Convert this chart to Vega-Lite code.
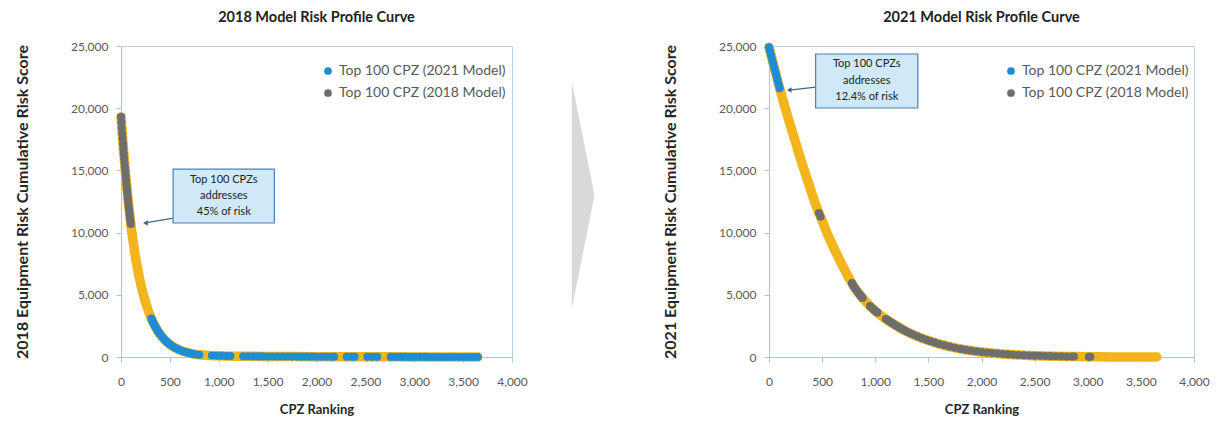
{
  "$schema": "https://vega.github.io/schema/vega-lite/v6.json",
  "background": "white",
  "padding": {"left": 13, "right": 4, "top": 9, "bottom": 2},
  "spacing": 28,
  "datasets": {
    "curve2018": [
      {"rank":0,"score":19300},{"rank":25,"score":16750},{"rank":50,"score":14450},{"rank":75,"score":12450},{"rank":100,"score":10700},{"rank":125,"score":9250},{"rank":150,"score":7950},{"rank":175,"score":6880},{"rank":200,"score":5930},{"rank":250,"score":4420},{"rank":300,"score":3290},{"rank":350,"score":2450},{"rank":400,"score":1820},{"rank":450,"score":1360},{"rank":500,"score":1010},{"rank":600,"score":560},{"rank":700,"score":320},{"rank":800,"score":180},{"rank":900,"score":130},{"rank":1000,"score":95},{"rank":1200,"score":65},{"rank":1500,"score":42},{"rank":2000,"score":25},{"rank":2500,"score":14},{"rank":3000,"score":7},{"rank":3400,"score":3},{"rank":3650,"score":0}
    ],
    "top2018panel": [
      {"rank":0,"score":19300,"model":"2018"},{"rank":4,"score":18850,"model":"2018"},{"rank":8,"score":18410,"model":"2018"},{"rank":12,"score":17980,"model":"2018"},{"rank":16,"score":17560,"model":"2018"},{"rank":20,"score":17150,"model":"2018"},{"rank":24,"score":16750,"model":"2018"},{"rank":28,"score":16360,"model":"2018"},{"rank":32,"score":15980,"model":"2018"},{"rank":36,"score":15610,"model":"2018"},{"rank":40,"score":15240,"model":"2018"},{"rank":44,"score":14890,"model":"2018"},{"rank":48,"score":14540,"model":"2018"},{"rank":52,"score":14200,"model":"2018"},{"rank":56,"score":13870,"model":"2018"},{"rank":60,"score":13540,"model":"2018"},{"rank":64,"score":13230,"model":"2018"},{"rank":68,"score":12920,"model":"2018"},{"rank":72,"score":12620,"model":"2018"},{"rank":76,"score":12320,"model":"2018"},{"rank":80,"score":12040,"model":"2018"},{"rank":84,"score":11750,"model":"2018"},{"rank":88,"score":11480,"model":"2018"},{"rank":92,"score":11210,"model":"2018"},{"rank":96,"score":10950,"model":"2018"},{"rank":100,"score":10700,"model":"2018"},
      {"rank":310,"score":3099,"model":"2021"},{"rank":320,"score":2922,"model":"2021"},{"rank":330,"score":2754,"model":"2021"},{"rank":340,"score":2596,"model":"2021"},{"rank":350,"score":2447,"model":"2021"},{"rank":360,"score":2306,"model":"2021"},{"rank":370,"score":2175,"model":"2021"},{"rank":380,"score":2050,"model":"2021"},{"rank":390,"score":1933,"model":"2021"},{"rank":400,"score":1822,"model":"2021"},{"rank":420,"score":1619,"model":"2021"},{"rank":440,"score":1440,"model":"2021"},{"rank":460,"score":1280,"model":"2021"},{"rank":480,"score":1137,"model":"2021"},{"rank":500,"score":1010,"model":"2021"},{"rank":530,"score":846,"model":"2021"},{"rank":560,"score":709,"model":"2021"},{"rank":590,"score":594,"model":"2021"},{"rank":620,"score":498,"model":"2021"},{"rank":650,"score":417,"model":"2021"},{"rank":680,"score":349,"model":"2021"},{"rank":710,"score":293,"model":"2021"},{"rank":740,"score":245,"model":"2021"},{"rank":770,"score":205,"model":"2021"},{"rank":800,"score":180,"model":"2021"},
      {"rank":930,"score":125,"model":"2021"},{"rank":980,"score":105,"model":"2021"},{"rank":1030,"score":93,"model":"2021"},{"rank":1080,"score":85,"model":"2021"},{"rank":1120,"score":78,"model":"2021"},
      {"rank":1250,"score":62,"model":"2021"},{"rank":1300,"score":58,"model":"2021"},{"rank":1350,"score":54,"model":"2021"},{"rank":1400,"score":50,"model":"2021"},{"rank":1450,"score":47,"model":"2021"},{"rank":1500,"score":44,"model":"2021"},{"rank":1550,"score":42,"model":"2021"},{"rank":1600,"score":40,"model":"2021"},{"rank":1650,"score":38,"model":"2021"},{"rank":1700,"score":36,"model":"2021"},{"rank":1750,"score":34,"model":"2021"},{"rank":1800,"score":32,"model":"2021"},{"rank":1850,"score":30,"model":"2021"},{"rank":1900,"score":28,"model":"2021"},{"rank":1950,"score":27,"model":"2021"},{"rank":2000,"score":25,"model":"2021"},{"rank":2050,"score":24,"model":"2021"},{"rank":2100,"score":22,"model":"2021"},{"rank":2150,"score":21,"model":"2021"},{"rank":2180,"score":20,"model":"2021"},
      {"rank":2310,"score":17,"model":"2021"},{"rank":2360,"score":16,"model":"2021"},{"rank":2390,"score":15,"model":"2021"},
      {"rank":2520,"score":13,"model":"2021"},{"rank":2570,"score":12,"model":"2021"},{"rank":2620,"score":11,"model":"2021"},
      {"rank":2760,"score":9,"model":"2021"},{"rank":2810,"score":9,"model":"2021"},{"rank":2860,"score":8,"model":"2021"},{"rank":2910,"score":8,"model":"2021"},{"rank":2960,"score":7,"model":"2021"},{"rank":3010,"score":7,"model":"2021"},{"rank":3060,"score":6,"model":"2021"},{"rank":3110,"score":6,"model":"2021"},{"rank":3160,"score":5,"model":"2021"},{"rank":3210,"score":5,"model":"2021"},{"rank":3260,"score":4,"model":"2021"},{"rank":3310,"score":4,"model":"2021"},{"rank":3360,"score":3,"model":"2021"},{"rank":3410,"score":3,"model":"2021"},{"rank":3460,"score":2,"model":"2021"},{"rank":3510,"score":2,"model":"2021"},{"rank":3560,"score":1,"model":"2021"},{"rank":3610,"score":1,"model":"2021"},{"rank":3650,"score":0,"model":"2021"}
    ],
    "curve2021": [
      {"rank":0,"score":24900},{"rank":50,"score":23250},{"rank":100,"score":21600},{"rank":150,"score":20100},{"rank":200,"score":18650},{"rank":250,"score":17250},{"rank":300,"score":15850},{"rank":350,"score":14550},{"rank":400,"score":13250},{"rank":450,"score":12000},{"rank":500,"score":10950},{"rank":550,"score":9900},{"rank":600,"score":8950},{"rank":650,"score":8050},{"rank":700,"score":7200},{"rank":750,"score":6400},{"rank":800,"score":5650},{"rank":850,"score":5050},{"rank":900,"score":4550},{"rank":950,"score":4100},{"rank":1000,"score":3700},{"rank":1100,"score":3050},{"rank":1200,"score":2500},{"rank":1300,"score":2020},{"rank":1400,"score":1640},{"rank":1500,"score":1320},{"rank":1600,"score":1050},{"rank":1700,"score":830},{"rank":1800,"score":650},{"rank":1900,"score":510},{"rank":2000,"score":400},{"rank":2200,"score":240},{"rank":2400,"score":140},{"rank":2600,"score":80},{"rank":2800,"score":45},{"rank":3000,"score":22},{"rank":3200,"score":10},{"rank":3400,"score":4},{"rank":3650,"score":0}
    ],
    "top2021panel": [
      {"rank":0,"score":24900,"model":"2021"},{"rank":10,"score":24570,"model":"2021"},{"rank":20,"score":24240,"model":"2021"},{"rank":30,"score":23900,"model":"2021"},{"rank":40,"score":23570,"model":"2021"},{"rank":50,"score":23250,"model":"2021"},{"rank":60,"score":22920,"model":"2021"},{"rank":70,"score":22590,"model":"2021"},{"rank":80,"score":22260,"model":"2021"},{"rank":90,"score":21930,"model":"2021"},{"rank":100,"score":21600,"model":"2021"},
      {"rank":470,"score":11580,"model":"2018"},{"rank":485,"score":11270,"model":"2018"},
      {"rank":780,"score":5950,"model":"2018"},{"rank":790,"score":5800,"model":"2018"},{"rank":800,"score":5650,"model":"2018"},{"rank":815,"score":5470,"model":"2018"},{"rank":830,"score":5290,"model":"2018"},{"rank":845,"score":5110,"model":"2018"},{"rank":860,"score":4950,"model":"2018"},{"rank":870,"score":4850,"model":"2018"},{"rank":880,"score":4750,"model":"2018"},
      {"rank":950,"score":4100,"model":"2018"},{"rank":965,"score":3980,"model":"2018"},{"rank":980,"score":3860,"model":"2018"},{"rank":995,"score":3740,"model":"2018"},{"rank":1010,"score":3635,"model":"2018"},{"rank":1020,"score":3570,"model":"2018"},
      {"rank":1100,"score":3050,"model":"2018"},{"rank":1120,"score":2940,"model":"2018"},{"rank":1140,"score":2830,"model":"2018"},{"rank":1160,"score":2720,"model":"2018"},{"rank":1180,"score":2610,"model":"2018"},{"rank":1200,"score":2500,"model":"2018"},{"rank":1225,"score":2380,"model":"2018"},{"rank":1250,"score":2260,"model":"2018"},{"rank":1275,"score":2140,"model":"2018"},{"rank":1300,"score":2020,"model":"2018"},{"rank":1330,"score":1910,"model":"2018"},{"rank":1360,"score":1790,"model":"2018"},{"rank":1400,"score":1640,"model":"2018"},{"rank":1440,"score":1510,"model":"2018"},{"rank":1480,"score":1380,"model":"2018"},{"rank":1520,"score":1265,"model":"2018"},{"rank":1560,"score":1160,"model":"2018"},{"rank":1600,"score":1050,"model":"2018"},{"rank":1650,"score":940,"model":"2018"},{"rank":1700,"score":830,"model":"2018"},{"rank":1750,"score":740,"model":"2018"},{"rank":1800,"score":650,"model":"2018"},{"rank":1850,"score":580,"model":"2018"},{"rank":1900,"score":510,"model":"2018"},{"rank":1950,"score":455,"model":"2018"},{"rank":2000,"score":400,"model":"2018"},{"rank":2050,"score":360,"model":"2018"},{"rank":2100,"score":320,"model":"2018"},{"rank":2150,"score":275,"model":"2018"},{"rank":2200,"score":240,"model":"2018"},{"rank":2250,"score":212,"model":"2018"},{"rank":2300,"score":185,"model":"2018"},{"rank":2350,"score":162,"model":"2018"},{"rank":2400,"score":140,"model":"2018"},{"rank":2450,"score":125,"model":"2018"},{"rank":2500,"score":110,"model":"2018"},{"rank":2550,"score":95,"model":"2018"},{"rank":2600,"score":80,"model":"2018"},{"rank":2650,"score":70,"model":"2018"},{"rank":2700,"score":62,"model":"2018"},{"rank":2750,"score":53,"model":"2018"},{"rank":2800,"score":45,"model":"2018"},{"rank":2850,"score":40,"model":"2018"},{"rank":2870,"score":38,"model":"2018"},
      {"rank":3010,"score":21,"model":"2018"},{"rank":3025,"score":20,"model":"2018"}
    ],
    "box2018": [{"x1":533,"x2":1569,"y1":10770,"y2":15110,"ax":250,"ay":10780,"bx":533,"by":11170}],
    "text2018": [{"rank":1051,"score":14250,"line":"Top 100 CPZs"},{"rank":1051,"score":12940,"line":"addresses"},{"rank":1051,"score":11650,"line":"45% of risk"}],
    "box2021": [{"x1":439,"x2":1401,"y1":20016,"y2":24357,"ax":190,"ay":21460,"bx":439,"by":21700}],
    "text2021": [{"rank":920,"score":23550,"line":"Top 100 CPZs"},{"rank":920,"score":22190,"line":"addresses"},{"rank":920,"score":20900,"line":"12.4% of risk"}]
  },
  "hconcat": [
    {
      "title": "2018 Model Risk Profile Curve",
      "width": 391,
      "height": 311,
      "view": {"stroke": "#b8d0e6", "strokeWidth": 1},
      "layer": [
        {
          "data": {"name": "curve2018"},
          "mark": {"type": "line", "color": "#F2B51B", "strokeWidth": 9.5, "strokeCap": "round", "strokeJoin": "round", "interpolate": "monotone"},
          "encoding": {
            "x": {"field": "rank", "type": "quantitative", "scale": {"domain": [0, 4000], "nice": false}, "axis": {"title": "CPZ Ranking", "values": [0,500,1000,1500,2000,2500,3000,3500,4000], "format": ",d"}},
            "y": {"field": "score", "type": "quantitative", "scale": {"domain": [0, 25000], "nice": false}, "axis": {"title": "2018 Equipment Risk Cumulative Risk Score", "values": [0,5000,10000,15000,20000,25000], "format": ",d"}}
          }
        },
        {
          "data": {"name": "top2018panel"},
          "mark": {"type": "circle", "size": 66, "opacity": 1},
          "encoding": {
            "x": {"field": "rank", "type": "quantitative"},
            "y": {"field": "score", "type": "quantitative"},
            "color": {"field": "model", "type": "nominal", "scale": {"domain": ["2021", "2018"], "range": ["#1F8DD6", "#6E6E6E"]}, "legend": {"labelExpr": "'Top 100 CPZ (' + datum.label + ' Model)'", "orient": "none", "legendX": 200, "legendY": 18}}
          }
        },
        {
          "data": {"name": "box2018"},
          "mark": {"type": "rule", "color": "#44697d", "strokeWidth": 1.2},
          "encoding": {"x": {"field": "bx", "type": "quantitative"}, "y": {"field": "by", "type": "quantitative"}, "x2": {"field": "ax"}, "y2": {"field": "ay"}}
        },
        {
          "data": {"name": "box2018"},
          "mark": {"type": "point", "shape": "triangle-left", "size": 30, "filled": true, "color": "#44697d", "opacity": 1},
          "encoding": {"x": {"field": "ax", "type": "quantitative"}, "y": {"field": "ay", "type": "quantitative"}}
        },
        {
          "data": {"name": "box2018"},
          "mark": {"type": "rect", "fill": "#cfe9f8", "stroke": "#4f81ad", "strokeWidth": 1.2},
          "encoding": {"x": {"field": "x1", "type": "quantitative"}, "x2": {"field": "x2"}, "y": {"field": "y1", "type": "quantitative"}, "y2": {"field": "y2"}}
        },
        {
          "data": {"name": "text2018"},
          "mark": {"type": "text", "font": "Lato", "fontSize": 11, "color": "#222222", "align": "center", "baseline": "middle"},
          "encoding": {"x": {"field": "rank", "type": "quantitative"}, "y": {"field": "score", "type": "quantitative"}, "text": {"field": "line"}}
        }
      ]
    },
    {
      "width": 77,
      "height": 311,
      "view": {"stroke": null},
      "data": {"values": [{"k": 0, "v": 0.04}]},
      "mark": {"type": "point", "shape": "M -0.2 -1 L 0 0 L -0.2 1 Z", "size": 51529, "filled": true, "color": "#d9d9d9", "opacity": 1},
      "encoding": {
        "x": {"field": "k", "type": "quantitative", "scale": {"domain": [-1, 1]}, "axis": null},
        "y": {"field": "v", "type": "quantitative", "scale": {"domain": [-1, 1]}, "axis": null}
      }
    },
    {
      "title": "2021 Model Risk Profile Curve",
      "width": 425,
      "height": 311,
      "view": {"stroke": "#b8d0e6", "strokeWidth": 1},
      "layer": [
        {
          "data": {"name": "curve2021"},
          "mark": {"type": "line", "color": "#F2B51B", "strokeWidth": 9.5, "strokeCap": "round", "strokeJoin": "round", "interpolate": "monotone"},
          "encoding": {
            "x": {"field": "rank", "type": "quantitative", "scale": {"domain": [0, 4000], "nice": false}, "axis": {"title": "CPZ Ranking", "values": [0,500,1000,1500,2000,2500,3000,3500,4000], "format": ",d"}},
            "y": {"field": "score", "type": "quantitative", "scale": {"domain": [0, 25000], "nice": false}, "axis": {"title": "2021 Equipment Risk Cumulative Risk Score", "values": [0,5000,10000,15000,20000,25000], "format": ",d"}}
          }
        },
        {
          "data": {"name": "top2021panel"},
          "mark": {"type": "circle", "size": 66, "opacity": 1},
          "encoding": {
            "x": {"field": "rank", "type": "quantitative"},
            "y": {"field": "score", "type": "quantitative"},
            "color": {"field": "model", "type": "nominal", "scale": {"domain": ["2021", "2018"], "range": ["#1F8DD6", "#6E6E6E"]}, "legend": {"labelExpr": "'Top 100 CPZ (' + datum.label + ' Model)'", "orient": "none", "legendX": 235, "legendY": 18}}
          }
        },
        {
          "data": {"name": "box2021"},
          "mark": {"type": "rule", "color": "#44697d", "strokeWidth": 1.2},
          "encoding": {"x": {"field": "bx", "type": "quantitative"}, "y": {"field": "by", "type": "quantitative"}, "x2": {"field": "ax"}, "y2": {"field": "ay"}}
        },
        {
          "data": {"name": "box2021"},
          "mark": {"type": "point", "shape": "triangle-left", "size": 30, "filled": true, "color": "#44697d", "opacity": 1},
          "encoding": {"x": {"field": "ax", "type": "quantitative"}, "y": {"field": "ay", "type": "quantitative"}}
        },
        {
          "data": {"name": "box2021"},
          "mark": {"type": "rect", "fill": "#cfe9f8", "stroke": "#4f81ad", "strokeWidth": 1.2},
          "encoding": {"x": {"field": "x1", "type": "quantitative"}, "x2": {"field": "x2"}, "y": {"field": "y1", "type": "quantitative"}, "y2": {"field": "y2"}}
        },
        {
          "data": {"name": "text2021"},
          "mark": {"type": "text", "font": "Lato", "fontSize": 11, "color": "#222222", "align": "center", "baseline": "middle"},
          "encoding": {"x": {"field": "rank", "type": "quantitative"}, "y": {"field": "score", "type": "quantitative"}, "text": {"field": "line"}}
        }
      ]
    }
  ],
  "resolve": {"legend": {"color": "independent"}, "scale": {"x": "independent", "y": "independent", "color": "independent"}},
  "config": {
    "font": "Lato",
    "view": {"stroke": null},
    "axis": {"domainColor": "#a8c6e0", "tickColor": "#a8c6e0", "tickSize": 5, "grid": false, "labelFont": "Lato", "labelFontSize": 12, "labelColor": "#595959", "titleFont": "Lato", "titleFontSize": 16, "titleFontWeight": "bold", "titleColor": "#262626", "labelFlush": false},
    "axisX": {"labelPadding": 14, "titlePadding": 16, "titleFontSize": 13},
    "axisY": {"labelPadding": 8, "titlePadding": 40},
    "title": {"font": "Lato", "fontSize": 14.5, "fontWeight": "bold", "color": "#222222", "offset": 15, "anchor": "middle"},
    "legend": {"title": null, "labelFont": "Lato", "labelFontSize": 14, "labelLimit": 300, "labelColor": "#595959", "symbolType": "circle", "symbolSize": 60, "symbolStrokeWidth": 0, "rowPadding": 8, "padding": 0}
  }
}
